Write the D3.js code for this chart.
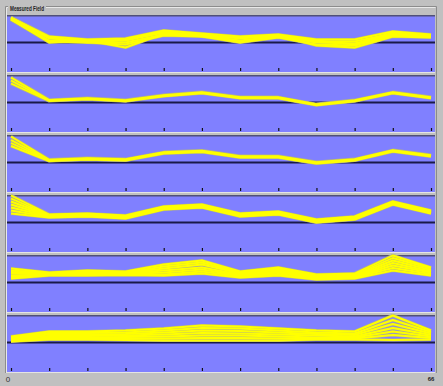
<!DOCTYPE html>
<html><head><meta charset="utf-8">
<script src="https://cdn.jsdelivr.net/npm/d3@7"></script>
<style>html,body{margin:0;padding:0;background:#c0c0c0;}svg{display:block;}</style>
</head><body>
<svg id="c" width="443" height="386"></svg>
<script>
// x positions (samples) and tick labels
const xValues = [0, 6, 12, 18, 24, 30, 36, 42, 48, 54, 60, 66];
const xTickLabels = ["0", "66"];
const title = "Measured Field";

// Panel series (height above the reference line, arbitrary units)
const panel1 = [
  [25, 6, 3, 4, 12, 9, 6, 8, 3, 3, 11, 8],
  [24, 4, 2, 2, 10, 8, 4, 7, 1, 1, 9, 7],
  [24, 2, 1, 0, 8, 7, 2, 6, 0, -1, 8, 6],
  [23, 1, 0, -2, 7, 6, 0, 5, -2, -3, 7, 6],
  [23, 0, 2, -5, 9, 7, 1, 7, -3, -5, 6, 5],
  [25, 5, 0, 3, 11, 6, 5, 6, 2, -2, 10, 7]
];
const panel2 = [
  [25, 2.5, 4.3, 2.3, 7.3, 10.3, 5.3, 5.3, -1.7, 2.3, 10.3, 5.3],
  [22, 2, 3.8, 1.8, 6.8, 9.8, 4.8, 4.8, -2.2, 1.8, 9.8, 4.8],
  [19, 1.5, 3.3, 1.3, 6.3, 9.3, 4.3, 4.3, -2.7, 1.3, 9.3, 4.3]
];
const panel3 = [
  [26, 2.8, 4.3, 3.3, 10.3, 11.8, 6.3, 6.3, 0.3, 3.3, 12.3, 7.3],
  [22.5, 2.3, 3.8, 2.8, 9.8, 11.3, 5.8, 5.8, -0.2, 2.8, 11.8, 6.8],
  [19.5, 1.9, 3.4, 2.4, 9.4, 10.9, 5.4, 5.4, -0.6, 2.4, 11.4, 6.4],
  [16.5, 1.5, 3, 2, 9, 10.5, 5, 5, -1, 2, 11, 6]
];
const panel4 = [
  [27, 8, 9, 7, 16, 18, 9, 11, 3, 6, 21, 12],
  [24, 7.5, 8.5, 6.5, 15.5, 17.5, 8.5, 10.5, 2.5, 5.5, 20.5, 11.5],
  [21, 7, 8, 6, 15, 17, 8, 10, 2, 5, 20, 11],
  [18, 6.5, 7.5, 5.5, 14.5, 16.5, 7.5, 9.5, 1.5, 4.5, 19.5, 10.5],
  [15, 6, 7, 5, 14, 16, 7, 9, 1, 4, 19, 10],
  [12, 5.5, 6.5, 4.5, 13.5, 15.5, 6.5, 8.5, 0.5, 3.5, 18.5, 9.5],
  [9, 5, 6, 4, 13, 15, 6, 8, 0, 3, 18, 9]
];
const panel5 = [
  [14, 10, 12, 11, 18, 22, 11, 15, 8, 9, 27, 15],
  [12, 9.5, 11, 10, 16, 20, 10, 14, 7, 8, 24.5, 14],
  [10.5, 9, 10, 9.5, 14, 18, 9, 12.5, 6, 7, 22, 12.5],
  [9, 8.5, 9, 9, 12, 15, 8, 11, 5.5, 6, 19.5, 11],
  [7, 8, 8.5, 8.5, 10, 13, 7, 10, 5, 5.5, 17, 10],
  [5.5, 7.5, 8, 8, 8, 11, 6, 8.5, 4, 5, 14.5, 8.5],
  [4, 7, 7, 7.5, 7, 9, 5, 7, 3, 4, 12, 7]
];
const panel6 = [
  [6, 11, 11, 12, 14, 17, 16, 14, 12, 11, 27, 12],
  [5, 9.5, 9.5, 10, 12, 14.5, 14, 12, 10, 9, 22.5, 10.5],
  [4, 8, 8, 8.5, 10, 12, 11.5, 10, 8.5, 7.5, 18.5, 9],
  [3.5, 6.5, 6.5, 7, 8, 9.5, 9, 8, 7, 6, 14.5, 7.5],
  [2.5, 5, 5, 5.5, 6, 7, 7, 6, 5, 5, 11, 6],
  [2, 4, 4, 4, 4, 4.5, 4.5, 4, 4, 4, 7.5, 4.5],
  [1, 3, 3, 2.5, 2, 2, 2, 2, 3, 3, 2.5, 3]
];
const panels = [panel1, panel2, panel3, panel4, panel5, panel6];

const svg = d3.select("#c");
const W = 443, H = 386;
svg.append("rect").attr("width", W).attr("height", H).attr("fill", "#c0c0c0");

// group box
svg.append("path").attr("d", "M5.5,373 V6.5 H8 M46,6.5 H436.5 V373").attr("fill", "none").attr("stroke", "#8c8c8c");
svg.append("path").attr("d", "M6.5,373 V7.5 H8 M46,7.5 H435.5").attr("fill", "none").attr("stroke", "#e8e8e8");
svg.append("text").attr("x", 10).attr("y", 11).attr("font-family", "Liberation Sans Narrow, Liberation Sans, Arial")
  .attr("font-size", 8).attr("font-weight", "bold").attr("fill", "#222")
  .attr("textLength", 34).attr("lengthAdjust", "spacingAndGlyphs").text(title);

const left = 7, right = 435;
const x = d3.scaleLinear().domain([0, 66]).range([11, 431]);
const panelTop0 = 15, step = 60, ph = 57;

panels.forEach((series, i) => {
  const top = panelTop0 + i * step;
  const y = d3.scaleLinear().domain([-29.5, 27.5]).range([top + ph, top]);
  const g = svg.append("g");
  g.append("rect").attr("x", left).attr("y", top).attr("width", right - left).attr("height", ph).attr("fill", "#8080ff");
  g.append("line").attr("x1", left).attr("x2", right).attr("y1", top + 0.75).attr("y2", top + 0.75)
    .attr("stroke", "#505078").attr("stroke-width", 1.5);
  g.append("line").attr("x1", left).attr("x2", right).attr("y1", top + ph + 0.5).attr("y2", top + ph + 0.5)
    .attr("stroke", "#e4e4e4").attr("stroke-width", 1);
  // zero line
  g.append("line").attr("x1", left).attr("x2", right).attr("y1", y(0)).attr("y2", y(0))
    .attr("stroke", "#1a1a48").attr("stroke-width", 2);
  // ticks
  const axis = d3.axisBottom(x).tickValues(xValues).tickSize(3).tickFormat("");
  const ag = g.append("g").attr("transform", `translate(0,${top + ph - 4})`).call(axis);
  ag.select(".domain").remove();
  ag.selectAll(".tick line").attr("stroke", "#111").attr("stroke-width", 1.2);

  const line = d3.line().x((d, j) => x(xValues[j])).y(d => y(d));
  const lg = g.append("g");
  series.forEach(s => {
    lg.append("path").attr("d", line(s)).attr("fill", "none").attr("stroke", "#b4b480")
      .attr("stroke-width", 3.2).attr("stroke-linejoin", "round");
  });
  series.forEach(s => {
    lg.append("path").attr("d", line(s)).attr("fill", "none").attr("stroke", "#ffff00")
      .attr("stroke-width", 1.9).attr("stroke-linejoin", "round");
  });
});

// x labels
svg.append("text").attr("x", x(0) - 3).attr("y", 382).attr("font-family", "Liberation Sans, Arial")
  .attr("font-size", 8).attr("text-anchor", "middle").attr("fill", "#333").text(xTickLabels[0]);
svg.append("text").attr("x", x(66)).attr("y", 381).attr("font-family", "Liberation Sans Narrow, Liberation Sans, Arial")
  .attr("font-size", 6).attr("font-weight", "bold").attr("text-anchor", "middle").attr("fill", "#222").text(xTickLabels[1]);
</script>
</body></html>
